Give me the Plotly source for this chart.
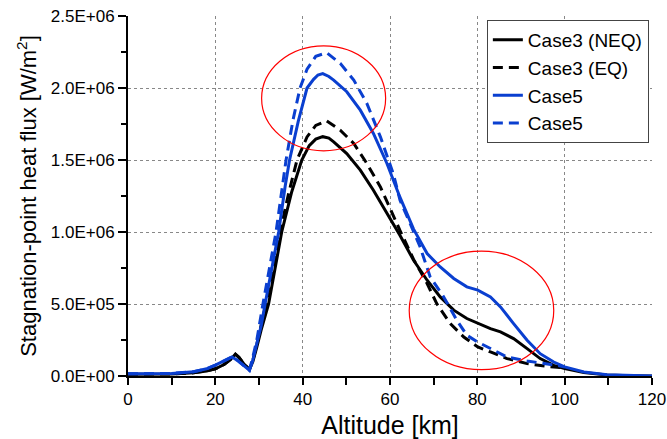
import plotly.graph_objects as go

# ---------------- data (altitude km, heat flux W/m^2 in units of 1e6) ----------------
alt_c3_neq = [0, 5, 10, 15, 18, 20, 22, 23.5, 24.6, 25.4, 26.5, 27.8, 28.6, 29.5, 30.5, 32.2, 33.6, 35.2,
              37.5, 39.8, 41.5, 43.0, 44.6, 46.0, 47.1, 50.1, 53.2, 56.2, 59.3, 62.3, 65.4, 68.5, 71.5,
              74.6, 77.6, 80.1, 83.0, 85.3, 88.3, 91.4, 94.4, 97.5, 100, 104.4, 109.7, 115, 120]
q_c3_neq = [0.012, 0.012, 0.014, 0.022, 0.035, 0.05, 0.08, 0.115, 0.152, 0.13, 0.085, 0.045, 0.1, 0.2,
            0.32, 0.5, 0.74, 1.0, 1.28, 1.5, 1.6, 1.645, 1.662, 1.652, 1.626, 1.545, 1.43, 1.29, 1.13,
            0.975, 0.804, 0.665, 0.549, 0.457, 0.399, 0.364, 0.329, 0.306, 0.26, 0.19, 0.121, 0.074,
            0.051, 0.024, 0.007, 0.002, 0.0]

alt_c3_eq = [0, 5, 10, 15, 18, 20, 22, 23.5, 24.6, 25.4, 26.5, 27.8, 28.6, 29.5, 30.5, 31.6, 33.2, 34.8,
             36.8, 38.7, 41.0, 43.0, 45.5, 48.6, 51.7, 54.7, 57.8, 59.3, 60.8, 62.3, 65.4, 68.5, 70.7,
             73.8, 76.9, 80.1, 83.0, 86.8, 91.4, 96.0, 100]
q_c3_eq = [0.012, 0.012, 0.014, 0.022, 0.035, 0.05, 0.08, 0.115, 0.15, 0.13, 0.085, 0.045, 0.11, 0.22,
           0.35, 0.5, 0.75, 1.0, 1.27, 1.5, 1.66, 1.74, 1.772, 1.707, 1.615, 1.476, 1.313, 1.21, 1.11,
           1.01, 0.81, 0.642, 0.503, 0.364, 0.271, 0.202, 0.167, 0.121, 0.086, 0.067, 0.056]

alt_c5 = [0, 5, 10, 15, 18, 20, 22, 23.8, 25.0, 26.5, 27.8, 28.5, 29.5, 30.5, 31.4, 33.0, 34.5, 36.0,
          37.0, 39.0, 41.0, 42.5, 43.5, 44.6, 46.0, 47.1, 50.1, 53.2, 56.2, 59.3, 62.3, 65.4, 68.5,
          71.5, 74.6, 77.6, 80.1, 83.0, 85.3, 88.3, 91.4, 94.4, 97.5, 100, 104.4, 109.7, 115, 120]
q_c5 = [0.015, 0.015, 0.018, 0.03, 0.05, 0.075, 0.105, 0.132, 0.11, 0.075, 0.04, 0.1, 0.22, 0.35, 0.5,
        0.77, 1.0, 1.32, 1.5, 1.77, 2.0, 2.06, 2.09, 2.10, 2.08, 2.055, 1.974, 1.846, 1.684, 1.476,
        1.24, 1.02, 0.85, 0.757, 0.677, 0.619, 0.596, 0.549, 0.48, 0.364, 0.248, 0.155, 0.097,
        0.063, 0.028, 0.009, 0.002, 0.0]

alt_c5_eq = [0, 5, 10, 15, 18, 20, 22, 23.8, 25.0, 26.5, 27.8, 28.5, 29.5, 30.9, 32.5, 33.9, 36.2,
             37.8, 39.4, 41.0, 43.0, 45.5, 48.6, 51.7, 54.7, 57.8, 60.8, 62.3, 64.6, 66.9, 69.2, 72.3,
             75.3, 77.6, 80.1, 83.0, 86.8, 91.4, 95.2, 98.2, 100]
q_c5_eq = [0.015, 0.015, 0.018, 0.03, 0.05, 0.075, 0.105, 0.132, 0.11, 0.075, 0.04, 0.12, 0.25, 0.5,
           0.76, 1.0, 1.5, 1.78, 2.0, 2.13, 2.22, 2.245, 2.171, 2.055, 1.893, 1.661, 1.40, 1.22, 1.059,
           0.896, 0.688, 0.549, 0.387, 0.283, 0.236, 0.19, 0.132, 0.104, 0.09, 0.074, 0.063]

series_names = ["Case3 (NEQ)", "Case3 (EQ)", "Case5", "Case5"]

y_tickvals = [0, 0.5e6, 1.0e6, 1.5e6, 2.0e6, 2.5e6]
y_ticktext = ["0.0E+00", "5.0E+05", "1.0E+06", "1.5E+06", "2.0E+06", "2.5E+06"]
x_tickvals = [0, 20, 40, 60, 80, 100, 120]

# highlight ellipses (x0, x1, y0, y1) in data units
ellipse_peak = (30.6, 59.0, 1.564e6, 2.293e6)
ellipse_tail = (64.4, 97.5, 0.044e6, 0.867e6)

BLUE = "#0a3fd0"
FONT = "Liberation Sans, Arial, sans-serif"

def scale(v):
    return [x * 1e6 for x in v]

fig = go.Figure()
fig.add_trace(go.Scatter(x=alt_c3_neq, y=scale(q_c3_neq), mode="lines", name=series_names[0],
                         line=dict(color="black", width=3)))
fig.add_trace(go.Scatter(x=alt_c3_eq, y=scale(q_c3_eq), mode="lines", name=series_names[1],
                         line=dict(color="black", width=3, dash="10px,6px")))
fig.add_trace(go.Scatter(x=alt_c5, y=scale(q_c5), mode="lines", name=series_names[2],
                         line=dict(color=BLUE, width=3)))
fig.add_trace(go.Scatter(x=alt_c5_eq, y=scale(q_c5_eq), mode="lines", name=series_names[3],
                         line=dict(color=BLUE, width=3, dash="10px,6px")))

for (x0, x1, y0, y1) in (ellipse_peak, ellipse_tail):
    fig.add_shape(type="circle", xref="x", yref="y", x0=x0, x1=x1, y0=y0, y1=y1,
                  line=dict(color="red", width=1.2), layer="above")

fig.update_layout(
    width=667, height=439,
    margin=dict(l=128, r=15, t=16, b=63, autoexpand=False),
    paper_bgcolor="white", plot_bgcolor="white",
    font=dict(family=FONT, color="black"),
    showlegend=True,
    legend=dict(x=0.994, y=0.989, xanchor="right", yanchor="top",
                bgcolor="white", bordercolor="#444", borderwidth=1,
                font=dict(size=19, family=FONT), tracegroupgap=0,
                itemwidth=30),
)
fig.update_xaxes(
    range=[0, 120], tickmode="array", tickvals=x_tickvals,
    showline=True, linecolor="black", linewidth=2, mirror=False,
    ticks="outside", ticklen=7, tickwidth=1.5, tickcolor="black",
    tickfont=dict(size=17, family=FONT),
    minor=dict(dtick=10, tick0=0, ticks="outside", ticklen=7, tickwidth=1.5, tickcolor="black", showgrid=False),
    showgrid=True, gridcolor="#888", griddash="dot", gridwidth=1,
    zeroline=False,
    title=dict(text="Altitude [km]", font=dict(size=25, family=FONT), standoff=12),
    automargin=False,
)
fig.update_yaxes(
    range=[0, 2.5e6], tickmode="array", tickvals=y_tickvals, ticktext=y_ticktext,
    showline=True, linecolor="black", linewidth=2, mirror=False,
    ticks="outside", ticklen=8, tickwidth=1.5, tickcolor="black",
    tickfont=dict(size=17, family=FONT),
    minor=dict(dtick=250000, tick0=0, ticks="outside", ticklen=5, tickwidth=1.5, tickcolor="black", showgrid=False),
    showgrid=True, gridcolor="#888", griddash="dot", gridwidth=1,
    zeroline=False,
    title=dict(text="Stagnation-point heat flux [W/m<sup>2</sup>]", font=dict(size=22, family=FONT), standoff=8),
    automargin=False,
)

fig.write_html("out.html")
